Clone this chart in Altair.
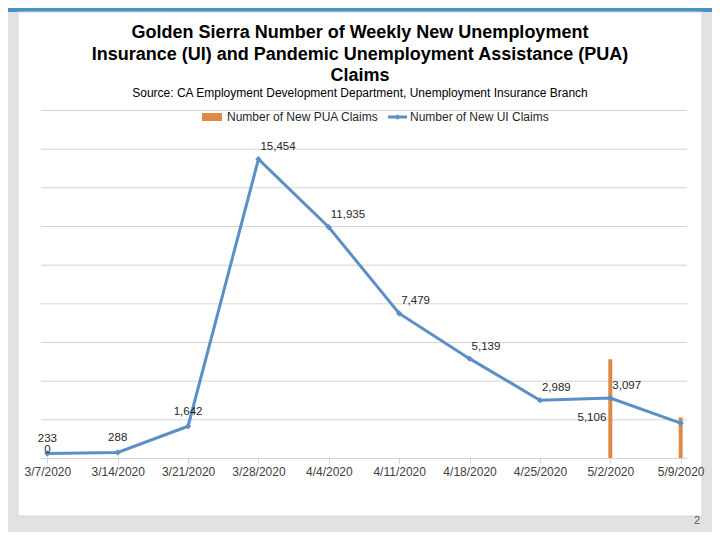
import altair as alt
import pandas as pd

# ---------------- data ----------------
dates = ["3/7/2020", "3/14/2020", "3/21/2020", "3/28/2020", "4/4/2020",
         "4/11/2020", "4/18/2020", "4/25/2020", "5/2/2020", "5/9/2020"]
ui_claims = [233, 288, 1642, 15454, 11935, 7479, 5139, 2989, 3097, 1800]
pua_claims = [0, None, None, None, None, None, None, None, 5106, 2100]
grid_values = [0, 2000, 4000, 6000, 8000, 10000, 12000, 14000, 16000, 18000]

title_lines = ["Golden Sierra Number of Weekly New Unemployment",
               "Insurance (UI) and Pandemic Unemployment Assistance (PUA)",
               "Claims"]
subtitle_text = "Source: CA Employment Development Department, Unemployment Insurance Branch"
legend_labels = ["Number of New PUA Claims", "Number of New UI Claims"]
page_number = "2"

# ---------------- styling ----------------
FONT = "Liberation Sans"
BLUE = "#5b8fc6"
ORANGE = "#dc8a46"
GRID = "#d4d4d4"

df = pd.DataFrame({"date": dates, "ui": ui_claims, "pua": pua_claims})
grid_df = pd.DataFrame({"g": grid_values})
one = pd.DataFrame({"k": [0]})

x_scale = alt.Scale(type="point", padding=0.09)
y_scale = alt.Scale(domain=[0, 18000], nice=False, zero=True)

x_axis = alt.Axis(title=None, labelAngle=0, labelFont=FONT, labelFontSize=12,
                  labelColor="#404040", domainColor=GRID, tickColor=GRID,
                  tickSize=5, labelPadding=3, grid=False, zindex=1)

X = alt.X("date:N", sort=dates, scale=x_scale, axis=x_axis)

# ---------------- decoration ----------------
panel = alt.Chart(one).mark_rect(fill="white", stroke="#d4d4d4", strokeWidth=1).encode(
    x=alt.value(-23), x2=alt.value(661), y=alt.value(-98), y2=alt.value(406))
topbar = alt.Chart(one).mark_rect(fill="#4a92c6").encode(
    x=alt.value(-41), x2=alt.value(679), y=alt.value(-110), y2=alt.value(-98))
pagenum = alt.Chart(one).mark_text(text=page_number, font=FONT, fontSize=11,
                                   color="#595959", align="center",
                                   baseline="middle").encode(
    x=alt.value(656), y=alt.value(411))

title = alt.Chart(one).mark_text(text=title_lines, font=FONT, fontSize=18,
                                 fontWeight="bold", color="black", align="center",
                                 baseline="alphabetic", lineHeight=21.5).encode(
    x=alt.value(319), y=alt.value(-72))
subtitle = alt.Chart(one).mark_text(text=subtitle_text, font=FONT, fontSize=12,
                                    color="black", align="center",
                                    baseline="alphabetic").encode(
    x=alt.value(319), y=alt.value(-13))

# ---------------- gridlines ----------------
grid = alt.Chart(grid_df).mark_rule(color=GRID, strokeWidth=1, yOffset=0.5).encode(
    y=alt.Y("g:Q", scale=y_scale, axis=None),
    x=alt.value(0), x2=alt.value(646))

# ---------------- data marks ----------------
bars = alt.Chart(df).mark_bar(size=4, color=ORANGE).encode(
    x=X, y=alt.Y("pua:Q", scale=y_scale, axis=None))

line = alt.Chart(df).mark_line(color=BLUE, strokeWidth=3).encode(
    x=X, y=alt.Y("ui:Q", scale=y_scale, axis=None))
points = alt.Chart(df).mark_point(shape="diamond", filled=True, size=40,
                                  color=BLUE, opacity=1).encode(
    x=X, y=alt.Y("ui:Q", scale=y_scale, axis=None))

label_common = dict(font=FONT, fontSize=11.5, color="#262626")
not_last = alt.datum.date != dates[-1]

ui_hi = alt.Chart(df).transform_filter(not_last).transform_filter(
    alt.datum.ui >= 2000).mark_text(align="left", baseline="middle", dx=2, dy=-12,
                                    **label_common).encode(
    x=X, y=alt.Y("ui:Q", scale=y_scale, axis=None),
    text=alt.Text("ui:Q", format=","))
ui_lo = alt.Chart(df).transform_filter(not_last).transform_filter(
    alt.datum.ui < 2000).mark_text(align="center", baseline="middle", dy=-14,
                                   **label_common).encode(
    x=X, y=alt.Y("ui:Q", scale=y_scale, axis=None),
    text=alt.Text("ui:Q", format=","))

pua_zero = alt.Chart(df).transform_filter(not_last).transform_filter(
    "isValid(datum.pua) && datum.pua == 0").mark_text(
    align="center", baseline="bottom", dy=-3, **label_common).encode(
    x=X, y=alt.Y("pua:Q", scale=y_scale, axis=None),
    text=alt.Text("pua:Q", format=","))
pua_pos = alt.Chart(df).transform_filter(not_last).transform_filter(
    "isValid(datum.pua) && datum.pua > 0").transform_calculate(
    mid="datum.pua / 2").mark_text(
    align="right", baseline="middle", dx=-4, dy=9, **label_common).encode(
    x=X, y=alt.Y("mid:Q", scale=y_scale, axis=None),
    text=alt.Text("pua:Q", format=","))

# ---------------- legend ----------------
leg_common = dict(font=FONT, fontSize=12, color="#262626")
leg_rect = alt.Chart(one).mark_rect(fill=ORANGE).encode(
    x=alt.value(161), x2=alt.value(181), y=alt.value(3), y2=alt.value(11))
leg_text1 = alt.Chart(one).mark_text(text=legend_labels[0], align="left",
                                     baseline="middle", **leg_common).encode(
    x=alt.value(186), y=alt.value(7))
leg_rule = alt.Chart(one).mark_rule(color=BLUE, strokeWidth=3).encode(
    x=alt.value(347), x2=alt.value(366), y=alt.value(7))
leg_pt = alt.Chart(one).mark_point(shape="diamond", filled=True, size=30,
                                   color=BLUE, opacity=1).encode(
    x=alt.value(356.5), y=alt.value(7))
leg_text2 = alt.Chart(one).mark_text(text=legend_labels[1], align="left",
                                     baseline="middle", **leg_common).encode(
    x=alt.value(369), y=alt.value(7))

chart = alt.layer(
    topbar, panel, pagenum, title, subtitle, grid,
    bars, line, points, ui_hi, ui_lo, pua_zero, pua_pos,
    leg_rect, leg_text1, leg_rule, leg_pt, leg_text2,
).properties(
    width=646, height=348,
    autosize=alt.AutoSizeParams(type="none"),
    padding={"left": 33, "top": 102, "right": 25, "bottom": 74},
    background="#e2e2e2",
).configure_view(stroke=None)

chart.save("out.html", embed_options={"renderer": "svg", "actions": False})
